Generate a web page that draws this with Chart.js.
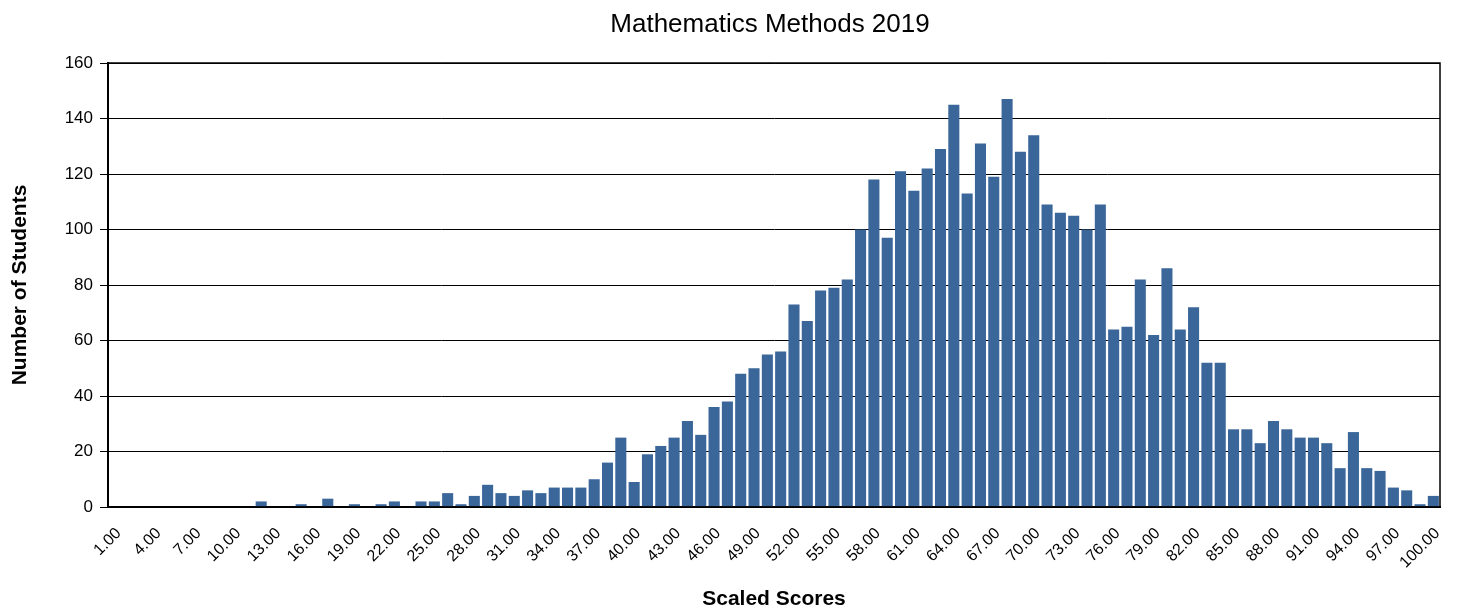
<!DOCTYPE html>
<html>
<head>
<meta charset="utf-8">
<script src="https://cdn.jsdelivr.net/npm/chart.js@4/dist/chart.umd.min.js"></script>
<style>
  html, body { margin: 0; padding: 0; background: #fff; }
  #wrap { width: 1460px; height: 610px; }
</style>
</head>
<body>
<div id="wrap"><canvas id="chart_scores"></canvas></div>
<script>
// scores 1..100
var scores = []
for (var s = 1; s <= 100; s++) scores.push(s.toFixed(2))

var students = [
  0, 0, 0, 0, 0, 0, 0, 0, 0, 0,
  0, 2, 0, 0, 1, 0, 3, 0, 1, 0,
  1, 2, 0, 2, 2, 5, 1, 4, 8, 5,
  4, 6, 5, 7, 7, 7, 10, 16, 25, 9,
  19, 22, 25, 31, 26, 36, 38, 48, 50, 55,
  56, 73, 67, 78, 79, 82, 100, 118, 97, 121,
  114, 122, 129, 145, 113, 131, 119, 147, 128, 134,
  109, 106, 105, 100, 109, 64, 65, 82, 62, 86,
  64, 72, 52, 52, 28, 28, 23, 31, 28, 25,
  25, 23, 14, 27, 14, 13, 7, 6, 1, 4
]

var y_ticks = [0, 20, 40, 60, 80, 100, 120, 140, 160]

var chart_title = 'Mathematics Methods 2019'

var FONT = '"Liberation Sans", Arial, sans-serif'

// box round the plot area + title centred over it
var plotBorder = {
  id: 'plotBorder',
  afterDraw: function (chart) {
    var a = chart.chartArea, ctx = chart.ctx
    ctx.save()
    ctx.strokeStyle = '#000'
    ctx.lineWidth = 1.5
    ctx.strokeRect(a.left, a.top, a.right - a.left, a.bottom - a.top)

    ctx.fillStyle = '#000'
    ctx.font = '26px ' + FONT
    ctx.textAlign = 'center'
    ctx.textBaseline = 'alphabetic'
    ctx.fillText(chart_title, (a.left + a.right) / 2 - 4, 32)
    ctx.restore()
  }
}

var ctx = document.getElementById('chart_scores').getContext('2d')

var mychart = new Chart(ctx, {
  type: 'bar',
  data: {
    labels: scores,
    datasets: [{
      data: students,
      backgroundColor: '#3A6699',
      barPercentage: 0.83,
      categoryPercentage: 1
    }]
  },
  options: {
    responsive: true,
    maintainAspectRatio: false,
    animation: false,
    layout: { padding: { left: 0, right: 20, top: 63, bottom: 0 } },
    plugins: {
      legend: { display: false },
      tooltip: { enabled: false },
      title: { display: false }
    },
    scales: {
      x: {
        grid: { display: false },
        border: { color: '#000', width: 2 },
        ticks: {
          autoSkip: false,
          maxRotation: 45,
          minRotation: 45,
          padding: 9,
          labelOffset: 4,
          color: '#000',
          font: { family: FONT, size: 16 },
          callback: function (val, i) { return i % 3 === 0 ? scores[i] : '' }
        },
        title: {
          display: true,
          text: 'Scaled Scores',
          color: '#000',
          font: { family: FONT, size: 21, weight: 'bold' },
          padding: { top: 4, bottom: -2 }
        },
        afterFit: function (scale) { scale.height = 103 }
      },
      y: {
        min: 0,
        max: 160,
        afterBuildTicks: function (scale) {
          scale.ticks = y_ticks.map(function (v) { return { value: v } })
        },
        grid: { color: '#000', lineWidth: 1, tickLength: 8 },
        border: { color: '#000', width: 2 },
        ticks: {
          color: '#000',
          padding: 7,
          font: { family: FONT, size: 17 }
        },
        title: {
          display: true,
          text: 'Number of Students',
          color: '#000',
          font: { family: FONT, size: 21, weight: 'bold' },
          padding: { top: 8, bottom: 4 }
        },
        afterFit: function (scale) { scale.width = 108 }
      }
    }
  },
  plugins: [plotBorder]
})
</script>
</body>
</html>
